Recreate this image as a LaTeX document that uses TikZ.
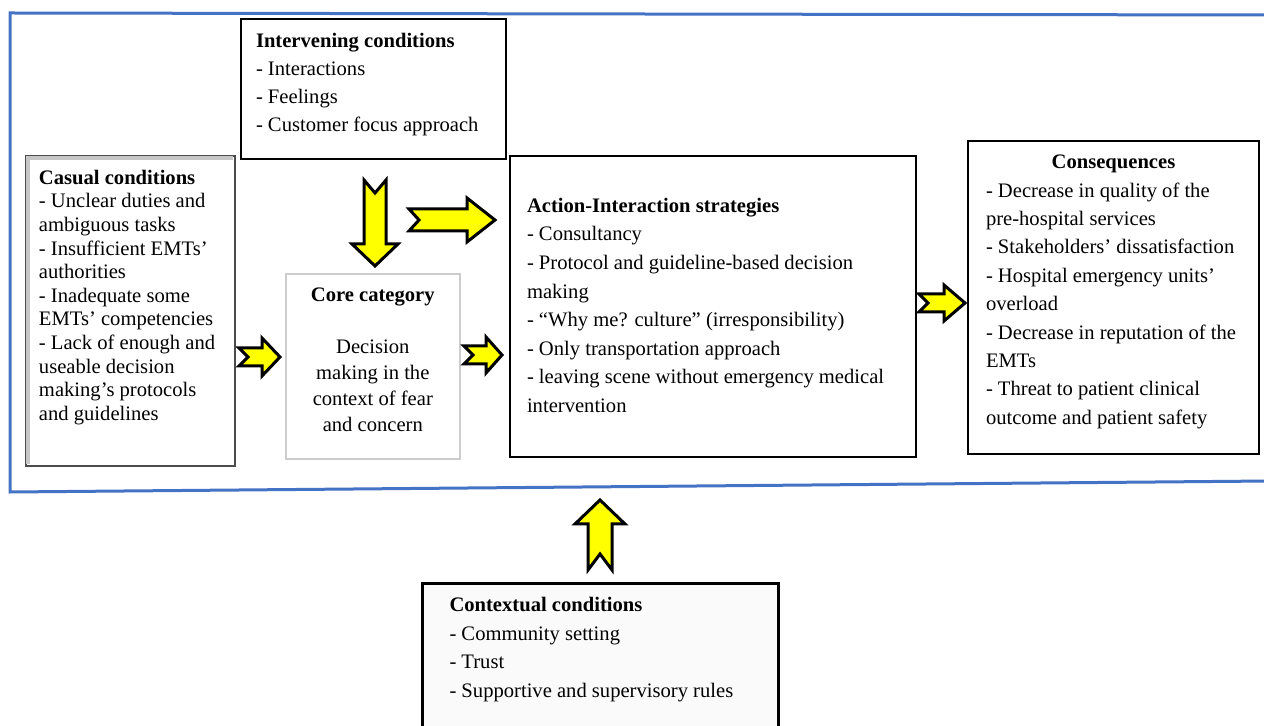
\documentclass[tikz,border=0pt]{standalone}
\usepackage{fontspec}
\setmainfont{LiberationSerif}[Extension=.ttf, UprightFont=*-Regular,
  BoldFont=*-Bold, ItalicFont=*-Italic, BoldItalicFont=*-BoldItalic]

\definecolor{frameblue}{HTML}{4472C4}
\definecolor{arrowyellow}{HTML}{FFFF00}

\newcommand{\boxbody}[3]{\parbox[t][#2][t]{#1}{\raggedright #3}}

\tikzset{
  box/.style={draw=black, line width=1pt, fill=white, anchor=north west, inner ysep=7pt},
  yarrow/.style={fill=arrowyellow, draw=black, line width=1.5pt},
  pics/fatarrow/.style n args={5}{code={
      \draw[yarrow] (0,-#4) -- (#1-#2,-#4) -- (#1-#2,-#3) -- (#1,0)
        -- (#1-#2,#3) -- (#1-#2,#4) -- (0,#4) -- (#5,0) -- cycle;
  }},
}

\begin{document}
\begin{tikzpicture}[x=0.5pt, y=-0.5pt, font=\fontsize{10.3}{14}\selectfont]
\useasboundingbox (0,0) rectangle (1264,726);

% blue frame round the model
\draw[frameblue, line width=1.5pt] (1270,15) -- (10,13) -- (10,492) -- (1270,481);

% boxes
\node[box, inner xsep=7.5pt] (inter) at (240,18)
  {\boxbody{117.5pt}{56pt}{\textbf{Intervening conditions}\\
   - Interactions\\- Feelings\\- Customer focus approach}};
\node[box, draw=gray!60!black, inner xsep=6.5pt, font=\fontsize{10.3}{11.8}\selectfont] (casual) at (25,155)
  {\boxbody{91.5pt}{141pt}{\textbf{Casual conditions}\\
   - Unclear duties and\\ambiguous tasks\\- Insufficient EMTs’\\authorities\\
   - Inadequate some\\EMTs’ competencies\\- Lack of enough and\\useable decision\\
   making’s protocols\\and guidelines}};
\draw[gray!45, line width=2pt] ([shift={(1.6pt,1.6pt)}]casual.south west)
  |- ([shift={(-1.6pt,-1.6pt)}]casual.north east);
\node[box, draw=gray!40, line width=0.8pt, inner xsep=6.5pt, font=\fontsize{10.3}{13}\selectfont] (core) at (285,273)
  {\boxbody{74pt}{78.5pt}{\centering\textbf{Core category}\\[13pt]
   Decision\\making in the\\context of fear\\and concern}};
\node[box, inner xsep=8.5pt, font=\fontsize{10.3}{14.3}\selectfont] (action) at (509,155)
  {\boxbody{186pt}{136.5pt}{\vspace*{14pt}\textbf{Action-Interaction strategies}\\
   - Consultancy\\- Protocol and guideline-based decision\\making\\
   - “Why me? culture” (irresponsibility)\\- Only transportation approach\\
   - leaving scene without emergency medical\\intervention}};
\node[box, inner xsep=9pt, font=\fontsize{10.3}{14.2}\selectfont] (conseq) at (967,140)
  {\boxbody{127.5pt}{142.5pt}{\makebox[\linewidth]{\textbf{Consequences}}\\
   - Decrease in quality of the\\pre-hospital services\\- Stakeholders’ dissatisfaction\\
   - Hospital emergency units’\\overload\\- Decrease in reputation of the\\EMTs\\
   - Threat to patient clinical\\outcome and patient safety}};
\node[box, line width=1.5pt, fill=gray!4, inner xsep=13.5pt, font=\fontsize{10.3}{14.3}\selectfont] (context) at (421,582)
  {\boxbody{151pt}{60pt}{\textbf{Contextual conditions}\\
   - Community setting\\- Trust\\- Supportive and supervisory rules}};

% yellow block arrows
\pic[rotate=-90] at (375,180) {fatarrow={86}{22}{23}{11}{13}};
\pic at (409,220) {fatarrow={86}{28}{22}{11}{10}};
\pic at (239,357) {fatarrow={41}{18}{19}{9}{9}};
\pic at (464,355) {fatarrow={38}{16}{18}{9}{9}};
\pic at (919,303) {fatarrow={46}{21}{18}{9}{9}};
\pic[rotate=90] at (600,570) {fatarrow={70}{24}{25}{12}{16}};
\end{tikzpicture}
\end{document}
